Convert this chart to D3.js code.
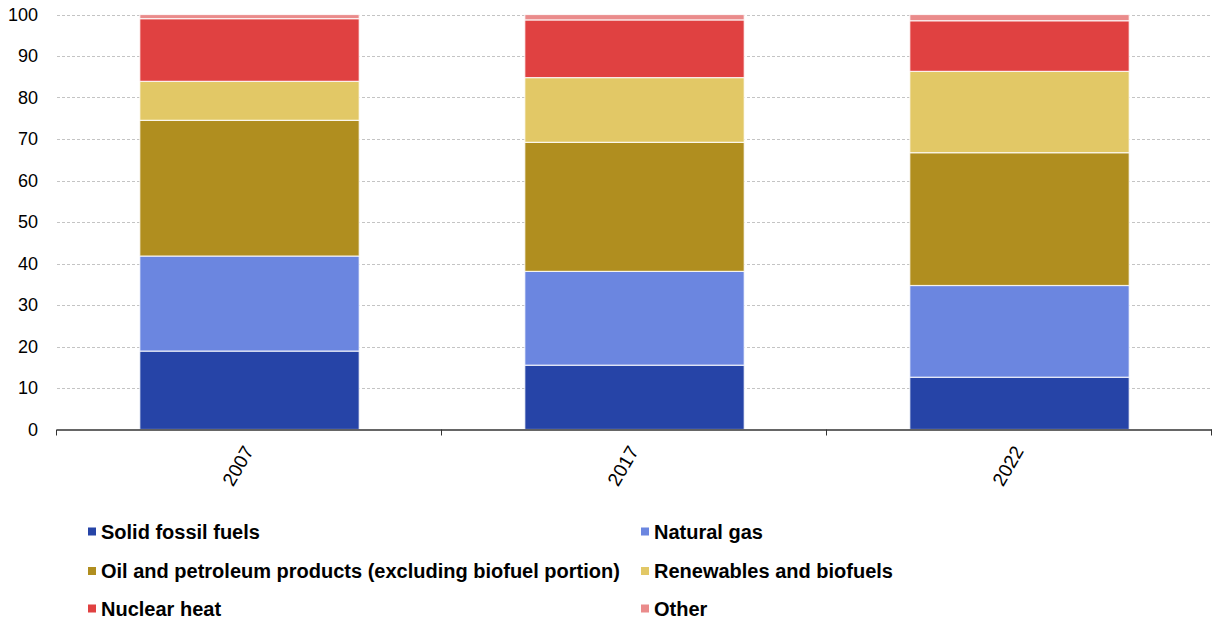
<!DOCTYPE html>
<html>
<head>
<meta charset="utf-8">
<script src="https://cdn.jsdelivr.net/npm/d3@7"></script>
<style>
  html, body { margin: 0; padding: 0; background: #fff; }
  svg { display: block; font-family: "Liberation Sans", Arial, sans-serif; }
</style>
</head>
<body>
<svg id="chart" width="1213" height="621"></svg>
<script>
// Energy mix shares (%) by year
const years = ["2007", "2017", "2022"];
const seriesNames = [
  "Solid fossil fuels",
  "Natural gas",
  "Oil and petroleum products (excluding biofuel portion)",
  "Renewables and biofuels",
  "Nuclear heat",
  "Other"
];
const solidFossil = [18.9, 15.5, 12.6];
const naturalGas = [22.9, 22.6, 22.1];
const oilPetroleum = [32.7, 31.1, 32.0];
const renewables = [9.4, 15.6, 19.6];
const nuclear = [15.1, 13.9, 12.2];
const other = [1.0, 1.3, 1.5];
const yTicks = [0, 10, 20, 30, 40, 50, 60, 70, 80, 90, 100];
const colors = ["#2644a7", "#6b86e0", "#b08e1f", "#e2c866", "#e04141", "#ea8b8b"];

const seriesValues = [solidFossil, naturalGas, oilPetroleum, renewables, nuclear, other];
const table = years.map((y, i) => {
  const row = { year: y };
  seriesNames.forEach((n, k) => { row[n] = seriesValues[k][i]; });
  return row;
});

const svg = d3.select("#chart");
const margin = { left: 57, right: 1, top: 14.5, bottom: 191.5 };
const W = 1213, H = 621;
const x0 = margin.left, x1 = W - margin.right;
const yTop = margin.top, yBot = H - margin.bottom;

const x = d3.scaleBand().domain(years).range([x0, x1]).paddingInner(0.43).paddingOuter(0.215);
const band = d3.scaleBand().domain(years).range([x0, x1]).padding(0);
const y = d3.scaleLinear().domain([0, 100]).range([yBot, yTop]);

// horizontal gridlines
svg.append("g")
  .selectAll("line")
  .data(yTicks.filter(t => t > 0))
  .join("line")
  .attr("x1", x0).attr("x2", x1)
  .attr("y1", d => Math.round(y(d)) + 0.5).attr("y2", d => Math.round(y(d)) + 0.5)
  .attr("stroke", "#c4c4c4")
  .attr("stroke-width", 1)
  .attr("stroke-dasharray", "3,2");

// y tick labels
svg.append("g")
  .selectAll("text")
  .data(yTicks)
  .join("text")
  .attr("x", 38)
  .attr("y", d => y(d))
  .attr("dy", "0.35em")
  .attr("text-anchor", "end")
  .attr("font-size", 18)
  .attr("fill", "#000")
  .text(d => d);

// stacked bars
const stack = d3.stack().keys(seriesNames)(table);
svg.append("g")
  .selectAll("g")
  .data(stack)
  .join("g")
  .attr("fill", (d, i) => colors[i])
  .selectAll("rect")
  .data(d => d)
  .join("rect")
  .attr("x", d => x(d.data.year))
  .attr("width", x.bandwidth())
  .attr("y", d => y(d[1]))
  .attr("height", d => y(d[0]) - y(d[1]))
  .attr("stroke", "rgba(255,255,255,0.8)")
  .attr("stroke-width", 1.2);

// x axis baseline and category dividers
const axisG = svg.append("g").attr("transform", `translate(0,${yBot})`);
axisG.append("line")
  .attr("x1", x0).attr("x2", x1)
  .attr("y1", 0.5).attr("y2", 0.5)
  .attr("stroke", "#333").attr("stroke-width", 1.3);
const dividers = years.map(yr => band(yr)).concat([x1]);
axisG.selectAll("line.tick")
  .data(dividers)
  .join("line")
  .attr("class", "tick")
  .attr("x1", d => Math.round(d) - 0.5).attr("x2", d => Math.round(d) - 0.5)
  .attr("y1", 0).attr("y2", 6)
  .attr("stroke", "#333").attr("stroke-width", 1);

// rotated year labels
axisG.selectAll("text")
  .data(years)
  .join("text")
  .attr("transform", d => `translate(${x(d) + x.bandwidth() / 2 - 1},${18}) rotate(-60)`)
  .attr("text-anchor", "end")
  .attr("dy", "0.35em")
  .attr("font-size", 19)
  .attr("fill", "#000")
  .text(d => d);

// legend in two columns
const legendCols = [88, 641];
const legendRows = [531.5, 571, 608.5];
const legend = svg.append("g")
  .selectAll("g")
  .data(seriesNames)
  .join("g")
  .attr("transform", (d, i) => `translate(${legendCols[i % 2]},${legendRows[Math.floor(i / 2)]})`);
legend.append("rect")
  .attr("x", 0).attr("y", -4)
  .attr("width", 8).attr("height", 8)
  .attr("fill", (d, i) => colors[i]);
legend.append("text")
  .attr("x", 13)
  .attr("dy", "0.35em")
  .attr("font-size", 20)
  .attr("font-weight", "bold")
  .attr("fill", "#000")
  .text(d => d);
</script>
</body>
</html>
